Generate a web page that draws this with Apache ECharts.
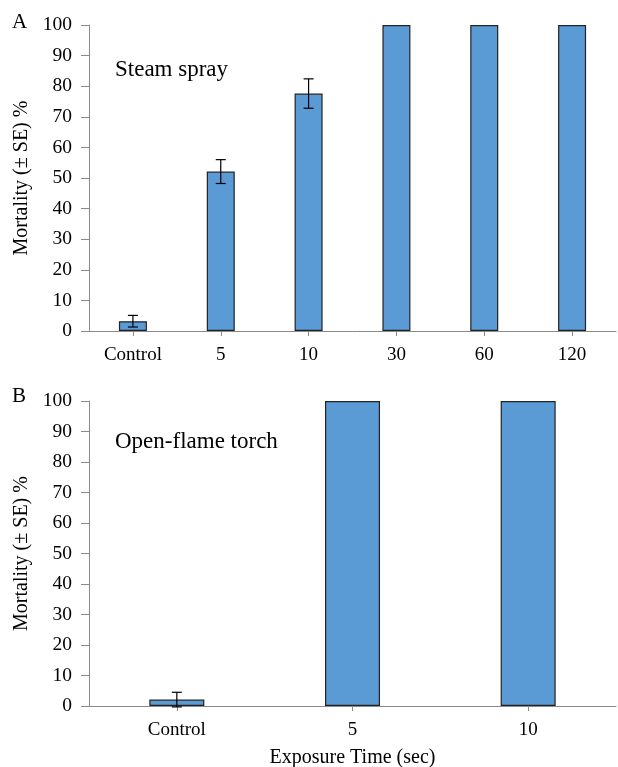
<!DOCTYPE html>
<html>
<head>
<meta charset="utf-8">
<script src="https://cdn.jsdelivr.net/npm/echarts@6/dist/echarts.min.js"></script>
<style>html,body{margin:0;padding:0;background:#fff}#c{width:618px;height:767px}</style>
</head>
<body>
<div id="c"></div>
<script>
// Panel A: Steam spray
const catsA = ['Control', '5', '10', '30', '60', '120'];
const mortA = [3.2, 52.1, 77.6, 100, 100, 100];
const seA = [1.9, 3.9, 4.8, 0, 0, 0];
// Panel B: Open-flame torch
const catsB = ['Control', '5', '10'];
const mortB = [2.1, 100, 100];
const seB = [2.4, 0, 0];
const yTicks = [0, 10, 20, 30, 40, 50, 60, 70, 80, 90, 100];

const FONT = '"Liberation Serif", "Times New Roman", serif';
const axisGray = '#8a8a8a';
const barColor = '#5b9bd5';

function errData(vals, se) {
  const out = [];
  vals.forEach((v, i) => { if (se[i] > 0) out.push([i, v - se[i], v + se[i]]); });
  return out;
}
function errRender(params, api) {
  const x = api.value(0);
  const lo = api.coord([x, api.value(1)]);
  const hi = api.coord([x, api.value(2)]);
  const w = 5;
  const st = { stroke: '#000', lineWidth: 1.2 };
  return { type: 'group', children: [
    { type: 'line', shape: { x1: hi[0], y1: hi[1], x2: lo[0], y2: lo[1] }, style: st },
    { type: 'line', shape: { x1: hi[0] - w, y1: hi[1], x2: hi[0] + w, y2: hi[1] }, style: st },
    { type: 'line', shape: { x1: lo[0] - w, y1: lo[1], x2: lo[0] + w, y2: lo[1] }, style: st }
  ]};
}
function yAxisCfg(gi) {
  return {
    gridIndex: gi, type: 'value', min: yTicks[0], max: yTicks[yTicks.length - 1], interval: yTicks[1] - yTicks[0],
    name: 'Mortality (± SE) %', nameLocation: 'middle', nameGap: 56,
    nameTextStyle: { fontFamily: FONT, fontSize: 20, color: '#000' },
    axisLine: { show: true, lineStyle: { color: axisGray, width: 1 } },
    axisTick: { show: true, length: 8, lineStyle: { color: axisGray } },
    axisLabel: { fontFamily: FONT, fontSize: 19.5, color: '#000', margin: 17 },
    splitLine: { show: false }
  };
}
function xAxisCfg(gi, cats, withName) {
  const c = {
    gridIndex: gi, type: 'category', data: cats,
    axisLine: { show: true, lineStyle: { color: axisGray, width: 1 } },
    axisTick: { show: true, alignWithLabel: true, length: 5, lineStyle: { color: axisGray } },
    axisLabel: { fontFamily: FONT, fontSize: 19, color: '#000', margin: 15 }
  };
  if (withName) {
    c.name = 'Exposure Time (sec)';
    c.nameLocation = 'middle';
    c.nameGap = 42;
    c.nameTextStyle = { fontFamily: FONT, fontSize: 20, color: '#000' };
  }
  return c;
}
const chart = echarts.init(document.getElementById('c'), null, { renderer: 'canvas' });
chart.setOption({
  animation: false,
  backgroundColor: '#fff',
  grid: [
    { left: 89, top: 25, width: 527, height: 306, containLabel: false, outerBoundsMode: 'none' },
    { left: 89, top: 401, width: 527, height: 305, containLabel: false, outerBoundsMode: 'none' }
  ],
  xAxis: [xAxisCfg(0, catsA, false), xAxisCfg(1, catsB, true)],
  yAxis: [yAxisCfg(0), yAxisCfg(1)],
  graphic: [
    { type: 'text', left: 12, top: 12, style: { text: 'A', font: '21px ' + FONT, fill: '#000' } },
    { type: 'text', left: 115, top: 58, style: { text: 'Steam spray', font: '23px ' + FONT, fill: '#000' } },
    { type: 'text', left: 12, top: 386, style: { text: 'B', font: '21px ' + FONT, fill: '#000' } },
    { type: 'text', left: 115, top: 430, style: { text: 'Open-flame torch', font: '23px ' + FONT, fill: '#000' } }
  ],
  series: [
    { type: 'bar', xAxisIndex: 0, yAxisIndex: 0, data: mortA, barWidth: 28,
      itemStyle: { color: barColor, borderColor: '#222', borderWidth: 1.2 } },
    { type: 'custom', xAxisIndex: 0, yAxisIndex: 0, data: errData(mortA, seA), renderItem: errRender, z: 5 },
    { type: 'bar', xAxisIndex: 1, yAxisIndex: 1, data: mortB, barWidth: 55,
      itemStyle: { color: barColor, borderColor: '#222', borderWidth: 1.2 } },
    { type: 'custom', xAxisIndex: 1, yAxisIndex: 1, data: errData(mortB, seB), renderItem: errRender, z: 5 }
  ]
});
</script>
</body>
</html>
